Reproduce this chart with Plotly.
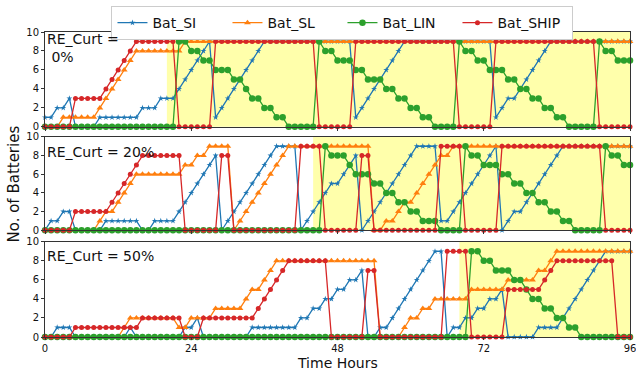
import plotly.graph_objects as go

hours = [0, 1, 2, 3, 4, 5, 6, 7, 8, 9,
         10, 11, 12, 13, 14, 15, 16, 17, 18, 19,
         20, 21, 22, 23, 24, 25, 26, 27, 28, 29,
         30, 31, 32, 33, 34, 35, 36, 37, 38, 39,
         40, 41, 42, 43, 44, 45, 46, 47, 48, 49,
         50, 51, 52, 53, 54, 55, 56, 57, 58, 59,
         60, 61, 62, 63, 64, 65, 66, 67, 68, 69,
         70, 71, 72, 73, 74, 75, 76, 77, 78, 79,
         80, 81, 82, 83, 84, 85, 86, 87, 88, 89,
         90, 91, 92, 93, 94, 95, 96]

series_names = ["Bat_SI", "Bat_SL", "Bat_LIN", "Bat_SHIP"]
panel_labels = ["RE_Curt =<br>\u00a00%", "RE_Curt = 20%", "RE_Curt = 50%"]
shade_start = [20, 44, 68]
x_ticks = [0, 24, 48, 72, 96]

# ---------------- RE_Curt = 0% ----------------
si_0 = [1, 1, 2, 2, 3, 0, 0, 0, 0, 1,
        1, 1, 1, 1, 1, 1, 2, 2, 2, 3,
        3, 3, 4, 5, 6, 7, 8, 9, 1, 2,
        3, 4, 5, 6, 7, 8, 9, 9, 9, 9,
        9, 9, 9, 9, 9, 9, 9, 9, 9, 9,
        9, 1, 2, 3, 4, 5, 6, 7, 8, 9,
        9, 9, 9, 9, 9, 9, 9, 9, 9, 9,
        9, 9, 9, 9, 1, 2, 3, 3, 4, 5,
        6, 7, 8, 9, 9, 9, 9, 9, 9, 9,
        9, 9, 9, 9, 9, 9, 9]
sl_0 = [0, 0, 0, 1, 1, 1, 1, 1, 1, 2,
        3, 4, 5, 6, 7, 8, 8, 8, 8, 8,
        8, 8, 8, 9, 9, 9, 9, 9, 9, 9,
        9, 9, 9, 9, 9, 9, 9, 9, 9, 9,
        9, 9, 9, 9, 9, 9, 9, 9, 9, 9,
        9, 9, 9, 9, 9, 9, 9, 9, 9, 9,
        9, 9, 9, 9, 9, 9, 9, 9, 9, 9,
        9, 9, 9, 9, 9, 9, 9, 9, 9, 9,
        9, 9, 9, 9, 9, 9, 9, 9, 9, 9,
        9, 9, 9, 9, 9, 9, 9]
lin_0 = [0, 0, 0, 0, 0, 0, 0, 0, 0, 0,
         0, 0, 0, 0, 0, 0, 0, 0, 0, 0,
         0, 0, 9, 9, 8, 8, 7, 7, 6, 6,
         6, 5, 5, 4, 3, 3, 2, 2, 1, 1,
         0, 0, 0, 0, 0, 9, 8, 8, 7, 7,
         7, 6, 6, 5, 5, 5, 4, 4, 3, 3,
         2, 2, 1, 1, 0, 0, 0, 0, 9, 8,
         8, 7, 7, 6, 6, 6, 5, 5, 4, 4,
         3, 3, 2, 2, 1, 1, 0, 0, 0, 0,
         0, 9, 8, 8, 7, 7, 7]
ship_0 = [0, 0, 0, 0, 0, 3, 3, 3, 3, 3,
          4, 5, 6, 7, 8, 9, 9, 9, 9, 9,
          9, 9, 0, 0, 0, 0, 0, 0, 9, 9,
          9, 9, 9, 9, 9, 9, 9, 9, 9, 9,
          9, 9, 9, 9, 9, 0, 0, 0, 0, 0,
          0, 9, 9, 9, 9, 9, 9, 9, 9, 9,
          9, 9, 9, 9, 9, 9, 9, 9, 0, 0,
          0, 0, 0, 0, 9, 9, 9, 9, 9, 9,
          9, 9, 9, 9, 9, 9, 9, 9, 9, 9,
          9, 0, 0, 0, 0, 0, 0]

# ---------------- RE_Curt = 20% ----------------
si_20 = [0, 1, 1, 2, 2, 0, 0, 0, 0, 0,
         1, 1, 1, 1, 1, 1, 0, 0, 1, 1,
         1, 1, 2, 3, 4, 5, 6, 7, 8, 0,
         1, 2, 3, 4, 5, 6, 7, 8, 9, 9,
         9, 9, 0, 1, 2, 3, 4, 5, 5, 6,
         7, 8, 0, 1, 2, 3, 4, 5, 6, 7,
         8, 9, 9, 9, 9, 1, 1, 2, 3, 4,
         5, 6, 7, 8, 9, 0, 1, 2, 2, 3,
         4, 5, 6, 7, 8, 9, 9, 9, 9, 9,
         9, 9, 9, 9, 9, 9, 9]
sl_20 = [0, 0, 0, 0, 0, 0, 0, 0, 0, 1,
         2, 2, 3, 4, 5, 6, 6, 6, 6, 6,
         6, 6, 6, 7, 7, 8, 8, 9, 9, 9,
         9, 0, 1, 2, 3, 4, 5, 6, 7, 8,
         9, 9, 9, 9, 9, 9, 9, 9, 9, 9,
         9, 9, 9, 9, 0, 0, 1, 1, 2, 3,
         3, 4, 5, 6, 7, 8, 8, 9, 9, 9,
         9, 9, 9, 9, 9, 9, 9, 9, 9, 9,
         9, 9, 9, 9, 9, 9, 9, 9, 9, 9,
         9, 9, 9, 9, 9, 9, 9]
lin_20 = [0, 0, 0, 0, 0, 0, 0, 0, 0, 0,
          0, 0, 0, 0, 0, 0, 0, 0, 0, 0,
          0, 0, 0, 0, 0, 0, 0, 0, 0, 0,
          0, 0, 0, 0, 0, 0, 0, 0, 0, 0,
          0, 0, 0, 0, 0, 0, 9, 8, 8, 8,
          7, 6, 6, 6, 5, 5, 4, 4, 3, 3,
          2, 2, 1, 1, 1, 0, 0, 0, 0, 9,
          8, 8, 7, 7, 7, 6, 6, 5, 5, 4,
          4, 3, 3, 2, 2, 1, 1, 0, 0, 0,
          0, 0, 9, 8, 8, 7, 7]
ship_20 = [0, 0, 0, 0, 0, 2, 2, 2, 2, 2,
           2, 3, 4, 5, 6, 7, 8, 8, 8, 8,
           8, 8, 8, 0, 0, 0, 0, 0, 0, 8,
           8, 0, 0, 0, 0, 0, 0, 0, 0, 0,
           0, 0, 9, 9, 9, 9, 0, 0, 0, 0,
           0, 0, 8, 8, 0, 0, 0, 0, 0, 0,
           0, 0, 0, 0, 0, 9, 9, 9, 9, 0,
           0, 0, 0, 0, 0, 9, 9, 9, 9, 9,
           9, 9, 9, 9, 9, 9, 9, 9, 9, 9,
           9, 9, 0, 0, 0, 0, 0]

# ---------------- RE_Curt = 50% ----------------
si_50 = [0, 0, 1, 1, 1, 0, 0, 0, 0, 0,
         0, 0, 0, 0, 1, 0, 0, 0, 0, 0,
         0, 0, 0, 1, 1, 2, 0, 0, 0, 0,
         0, 0, 0, 0, 1, 1, 1, 1, 1, 1,
         1, 1, 2, 2, 3, 3, 4, 4, 5, 5,
         6, 6, 7, 0, 0, 1, 1, 2, 3, 4,
         5, 6, 7, 8, 9, 9, 0, 1, 1, 2,
         2, 3, 3, 4, 4, 5, 0, 0, 0, 0,
         0, 1, 1, 1, 1, 2, 3, 4, 5, 6,
         7, 8, 9, 9, 9, 9, 9]
sl_50 = [0, 0, 0, 0, 0, 0, 0, 0, 0, 0,
         0, 0, 0, 1, 2, 2, 2, 2, 2, 2,
         2, 2, 1, 1, 2, 2, 2, 2, 3, 3,
         3, 3, 3, 4, 5, 5, 6, 7, 8, 8,
         8, 8, 8, 8, 8, 8, 8, 8, 8, 8,
         8, 8, 8, 8, 8, 0, 0, 0, 0, 1,
         2, 2, 3, 3, 4, 4, 4, 4, 4, 4,
         5, 5, 5, 5, 5, 5, 6, 6, 6, 6,
         6, 7, 7, 8, 9, 9, 9, 9, 9, 9,
         9, 9, 9, 9, 9, 9, 9]
lin_50 = [0, 0, 0, 0, 0, 0, 0, 0, 0, 0,
          0, 0, 0, 0, 0, 0, 0, 0, 0, 0,
          0, 0, 0, 0, 0, 0, 0, 0, 0, 0,
          0, 0, 0, 0, 0, 0, 0, 0, 0, 0,
          0, 0, 0, 0, 0, 0, 0, 0, 0, 0,
          0, 0, 0, 0, 0, 0, 0, 0, 0, 0,
          0, 0, 0, 0, 0, 0, 0, 0, 0, 0,
          9, 9, 8, 8, 7, 7, 7, 6, 6, 5,
          4, 4, 3, 3, 2, 2, 1, 1, 0, 0,
          0, 0, 0, 0, 0, 0, 0]
ship_50 = [0, 0, 0, 0, 0, 1, 1, 1, 1, 1,
           1, 1, 1, 1, 1, 1, 2, 2, 2, 2,
           2, 2, 2, 0, 0, 0, 2, 2, 2, 2,
           2, 2, 2, 2, 2, 3, 4, 5, 6, 7,
           8, 8, 8, 8, 8, 8, 8, 0, 0, 0,
           0, 0, 0, 7, 7, 0, 0, 0, 0, 0,
           0, 0, 0, 0, 0, 0, 9, 9, 9, 9,
           0, 0, 0, 0, 0, 0, 5, 5, 5, 5,
           5, 5, 6, 7, 8, 8, 8, 8, 8, 8,
           8, 8, 8, 8, 0, 0, 0]

panels = [
    [si_0, sl_0, lin_0, ship_0],
    [si_20, sl_20, lin_20, ship_20],
    [si_50, sl_50, lin_50, ship_50],
]

colors = ["#1f77b4", "#ff7f0e", "#2ca02c", "#d62728"]
symbols = ["star", "triangle-up", "circle", "circle"]
msizes = [4.5, 6, 6.5, 5]

FONT = "DejaVu Sans"
fig = go.Figure()

domains = [[0.689, 1.0], [0.350, 0.656], [0.0, 0.312]]
for p, data in enumerate(panels):
    xa = "x" if p == 0 else f"x{p+1}"
    ya = "y" if p == 0 else f"y{p+1}"
    for s, vals in enumerate(data):
        fig.add_trace(go.Scatter(
            x=hours, y=vals, mode="lines+markers", name=series_names[s],
            line=dict(color=colors[s], width=1.3),
            marker=dict(symbol=symbols[s], size=msizes[s], color=colors[s], line=dict(width=0)),
            showlegend=(p == 0), cliponaxis=False,
            xaxis=xa, yaxis=ya))
    fig.add_shape(type="rect", xref=xa, yref=f"{ya} domain",
                  x0=shade_start[p], x1=96, y0=0, y1=1,
                  fillcolor="rgba(255,255,0,0.33)", line=dict(width=0), layer="below")

axis_common = dict(showline=True, mirror=True, linecolor="#333", linewidth=1,
                   ticks="outside", ticklen=3, tickcolor="#333",
                   showgrid=False, zeroline=False,
                   tickfont=dict(family=FONT, size=10, color="#111"))
layout = dict(
    width=636, height=370,
    margin=dict(l=45, r=6, t=32, b=33, autoexpand=False),
    paper_bgcolor="white", plot_bgcolor="white",
    font=dict(family=FONT, color="#111"),
    showlegend=True,
    legend=dict(orientation="h", x=0.5085, xanchor="center", y=1.085, yanchor="top",
                font=dict(family=FONT, size=14, color="#111"),
                bgcolor="white", bordercolor="#cccccc", borderwidth=1,
                entrywidth=70, entrywidthmode="pixels"),
)
for p in range(3):
    xk = "xaxis" if p == 0 else f"xaxis{p+1}"
    yk = "yaxis" if p == 0 else f"yaxis{p+1}"
    ya = "y" if p == 0 else f"y{p+1}"
    xa = "x" if p == 0 else f"x{p+1}"
    layout[xk] = dict(axis_common, range=[0, 96], tickvals=x_ticks,
                      showticklabels=(p == 2), anchor=ya, domain=[0, 1],
                      ticklabeloverflow="allow")
    layout[yk] = dict(axis_common, range=[0, 10], tickvals=[0, 2, 4, 6, 8, 10],
                      anchor=xa, domain=domains[p])
layout["xaxis3"]["ticklen"] = 2
fig.update_layout(**layout)

ann_y = [0.835, 0.84, 0.85]
for p in range(3):
    ya = "y" if p == 0 else f"y{p+1}"
    xa = "x" if p == 0 else f"x{p+1}"
    fig.add_annotation(text=panel_labels[p], xref=f"{xa} domain", yref=f"{ya} domain",
                       x=0.0, y=ann_y[p], xanchor="left", yanchor="middle", align="left",
                       showarrow=False, font=dict(family=FONT, size=14, color="#111"))

fig.add_annotation(text="No. of Batteries", xref="paper", yref="paper",
                   x=-0.0547, y=0.5, xanchor="center", yanchor="middle", textangle=-90,
                   showarrow=False, font=dict(family=FONT, size=15, color="#111"))
fig.add_annotation(text="Time Hours", xref="paper", yref="paper",
                   x=0.5, y=-0.084, xanchor="center", yanchor="middle",
                   showarrow=False, font=dict(family=FONT, size=14, color="#111"))

fig.write_html("out.html", config={"displayModeBar": False},
               post_script="document.body.style.margin='0';")
